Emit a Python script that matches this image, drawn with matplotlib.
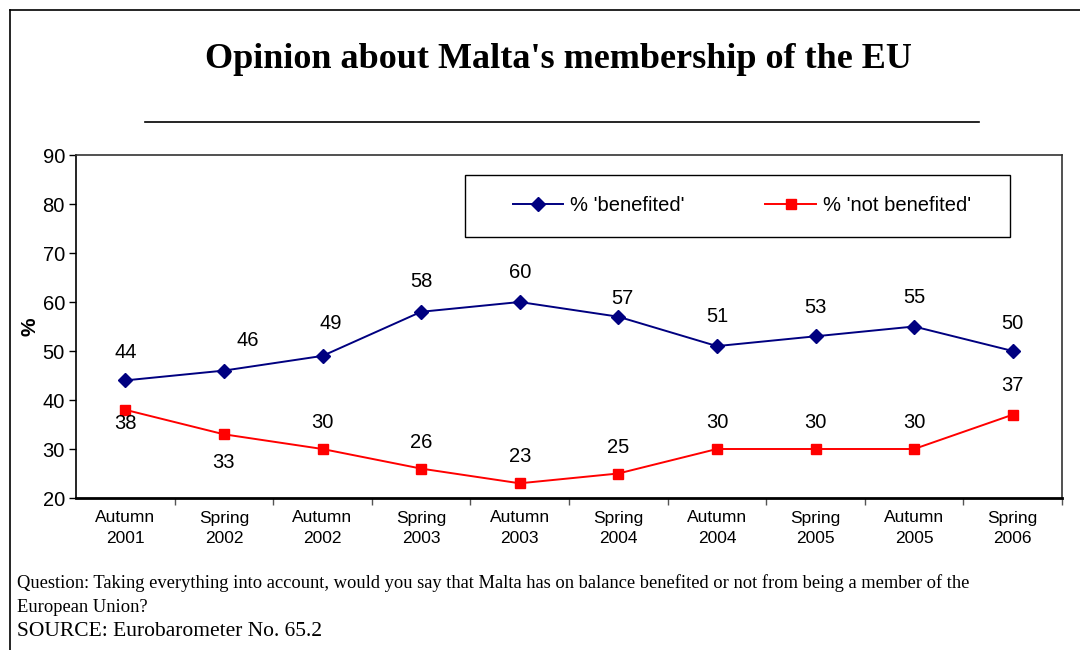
import matplotlib
matplotlib.use("Agg")
import matplotlib.pyplot as plt
from matplotlib.lines import Line2D
from matplotlib.patches import Rectangle

categories = ["Autumn\n2001", "Spring\n2002", "Autumn\n2002", "Spring\n2003", "Autumn\n2003",
              "Spring\n2004", "Autumn\n2004", "Spring\n2005", "Autumn\n2005", "Spring\n2006"]
benefited = [44, 46, 49, 58, 60, 57, 51, 53, 55, 50]
not_benefited = [38, 33, 30, 26, 23, 25, 30, 30, 30, 37]
yticks = [20, 30, 40, 50, 60, 70, 80, 90]

# label offsets (points) for data labels
ben_off = [(0, 20), (17, 22), (6, 23), (0, 22), (0, 21), (3, 13), (0, 21), (0, 21), (0, 21), (0, 20)]
nben_off = [(0, -10), (0, -20), (0, 19), (0, 19), (0, 19), (0, 19), (0, 19), (0, 19), (0, 19), (0, 21)]

W, H = 1080, 650
fig = plt.figure(figsize=(W / 100, H / 100), dpi=100)
ax = fig.add_axes([76 / W, 1 - 498 / H, (1062 - 76) / W, (498 - 155) / H])

x = list(range(len(categories)))
ax.plot(x, benefited, color="#000080", lw=1.4, marker="D", ms=7, mfc="#000080", mec="#000080",
        label="% 'benefited'")
ax.plot(x, not_benefited, color="#FF0000", lw=1.4, marker="s", ms=7.5, mfc="#FF0000", mec="#FF0000",
        label="% 'not benefited'")

for xi, v, o in zip(x, benefited, ben_off):
    ax.annotate(str(v), (xi, v), xytext=o, textcoords="offset points", ha="center", va="center",
                fontsize=14.5, family="Liberation Sans")
for xi, v, o in zip(x, not_benefited, nben_off):
    ax.annotate(str(v), (xi, v), xytext=o, textcoords="offset points", ha="center", va="center",
                fontsize=14.5, family="Liberation Sans")

ax.set_xlim(-0.5, len(categories) - 0.5)
ax.set_ylim(20, 90)
ax.set_yticks(yticks)
ax.set_yticklabels([str(t) for t in yticks], fontsize=14.5, family="Liberation Sans")
ax.set_xticks([i + 0.5 for i in range(len(categories))], minor=False)
ax.set_xticklabels([])
ax.set_xticks(x, minor=True)
ax.set_xticklabels(categories, minor=True, fontsize=12.5, family="Liberation Sans", linespacing=1.45)
ax.tick_params(axis="x", which="major", direction="out", length=5, width=1, color="#555555")
ax.tick_params(axis="x", which="minor", length=0, pad=9)
ax.tick_params(axis="y", direction="out", length=5, width=1, pad=3)

for side in ["top", "right"]:
    ax.spines[side].set_color("#333333")
    ax.spines[side].set_linewidth(1.2)
ax.spines["left"].set_linewidth(1.2)
ax.spines["bottom"].set_linewidth(2)

ax.set_ylabel("%", fontsize=15, fontweight="bold", family="Liberation Sans", labelpad=2)

# legend box drawn in figure pixel coordinates
fig.add_artist(Rectangle((465 / W, 1 - 237 / H), (1010 - 465) / W, (237 - 175) / H,
                         transform=fig.transFigure, fill=True, facecolor="white",
                         edgecolor="black", lw=1, zorder=5))
leg = fig.legend(*ax.get_legend_handles_labels(), loc="center",
                 bbox_to_anchor=(742 / W, 1 - 206 / H), ncol=2, frameon=False,
                 prop={"family": "Liberation Sans", "size": 14.5}, handlelength=2.5,
                 handletextpad=0.35, columnspacing=4.0, borderpad=0, borderaxespad=0)
leg.set_zorder(6)

fig.text(558 / W, 1 - 60 / H, "Opinion about Malta's membership of the EU", ha="center", va="center",
         fontsize=26, fontweight="bold", family="Liberation Serif")
fig.add_artist(Line2D([145 / W, 979 / W], [1 - 122 / H, 1 - 122 / H], color="black", lw=1.2))

fig.text(17 / W, 1 - 583 / H,
         "Question: Taking everything into account, would you say that Malta has on balance benefited or not from being a member of the",
         ha="left", va="center", fontsize=13.3, family="Liberation Serif")
fig.text(17 / W, 1 - 607 / H, "European Union?", ha="left", va="center", fontsize=13.3,
         family="Liberation Serif")
fig.text(17 / W, 1 - 632 / H, "SOURCE: Eurobarometer No. 65.2", ha="left", va="center", fontsize=15.5,
         family="Liberation Serif")

fig.add_artist(Line2D([10 / W, 1], [1 - 10 / H, 1 - 10 / H], color="black", lw=1.2))
fig.add_artist(Line2D([10 / W, 10 / W], [0, 1 - 10 / H], color="black", lw=1.2))

fig.savefig("out.png", dpi=100)
